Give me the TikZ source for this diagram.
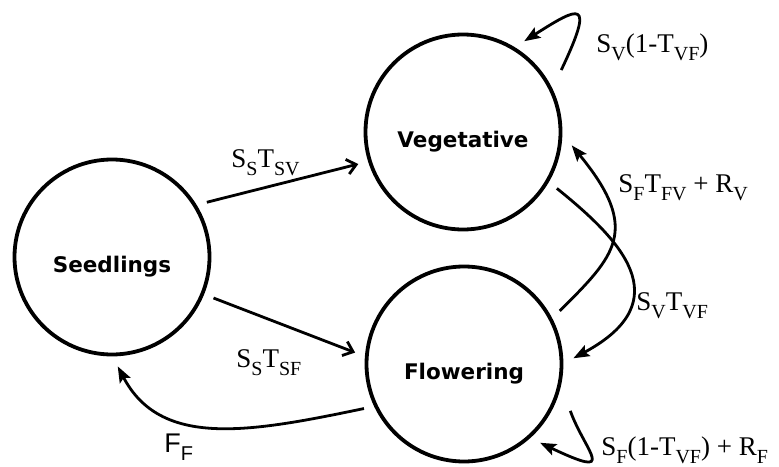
\documentclass[tikz,border=0pt]{standalone}
\usepackage{fontspec}
\setmainfont{Liberation Serif}
\newfontfamily\statefont{DejaVu Sans}
\newfontfamily\helvfont{Liberation Sans}
\usetikzlibrary{arrows.meta}
\newcommand{\dn}[1]{\raisebox{-0.3em}{\fontsize{20}{20}\selectfont #1}}

\begin{document}
\begin{tikzpicture}[x=1pt, y=-1pt, line width=2.8pt,
    state/.style={circle, draw, line width=3.8pt, minimum size=195pt, inner sep=0pt,
      outer sep=12pt, text height=30pt, text depth=0pt,
      font=\statefont\bfseries\fontsize{21.5}{21.5}\selectfont},
    lbl/.style={anchor=base west, inner sep=0pt, font=\fontsize{27}{27}\selectfont},
    open/.style={-{Straight Barb[length=9pt,width=15pt]}},
    fill tip/.style={-{Stealth[length=16pt,width=12pt,inset=3pt]}}]
				\useasboundingbox (0,0) rectangle (779,466);
				% life stages
				\node[state] (seed) at (112,257) {Seedlings};
				\node[state] (veg)  at (463,132) {Vegetative};
				\node[state] (flow) at (464,364) {Flowering};
				% transitions
				\draw[open] (seed.30) -- (veg.197);
				\draw[open] (seed.-22) -- (flow.174);
				\draw[fill tip] (flow.204) .. controls +(-115,24) and +(43,82) .. (seed.-87);
				\draw[fill tip, shorten <=8pt] (veg.30) .. controls +(38,-80) and +(55,-35) .. (veg.56);
				\draw[fill tip, shorten <=10pt] (flow.-20) .. controls +(18,50) and +(80,38) .. (flow.-46);
				\draw[fill tip] (flow.29) .. controls +(55,-55) and +(70,85) .. (veg.-7);
				\draw[fill tip] (veg.-31) .. controls +(62,50) and +(108,-58) .. (flow.3);
				% rates
				\node[lbl] (ssv) at (230,167) {S\dn{S}T\dn{SV}};
				\node[lbl] (ssf) at (235,367) {S\dn{S}T\dn{SF}};
				\node[lbl] (svv) at (595,52)  {S\dn{V}(1-T\dn{VF})};
				\node[lbl] (sfv) at (617,192) {S\dn{F}T\dn{FV} + R\dn{V}};
				\node[lbl] (svf) at (635,310) {S\dn{V}T\dn{VF}};
				\node[lbl] (sff) at (600,455) {S\dn{F}(1-T\dn{VF}) + R\dn{F}};
				\node[lbl, font=\helvfont\fontsize{27}{27}\selectfont] (ff) at (163,452) {F\dn{F}};
		\end{tikzpicture}
\end{document}
